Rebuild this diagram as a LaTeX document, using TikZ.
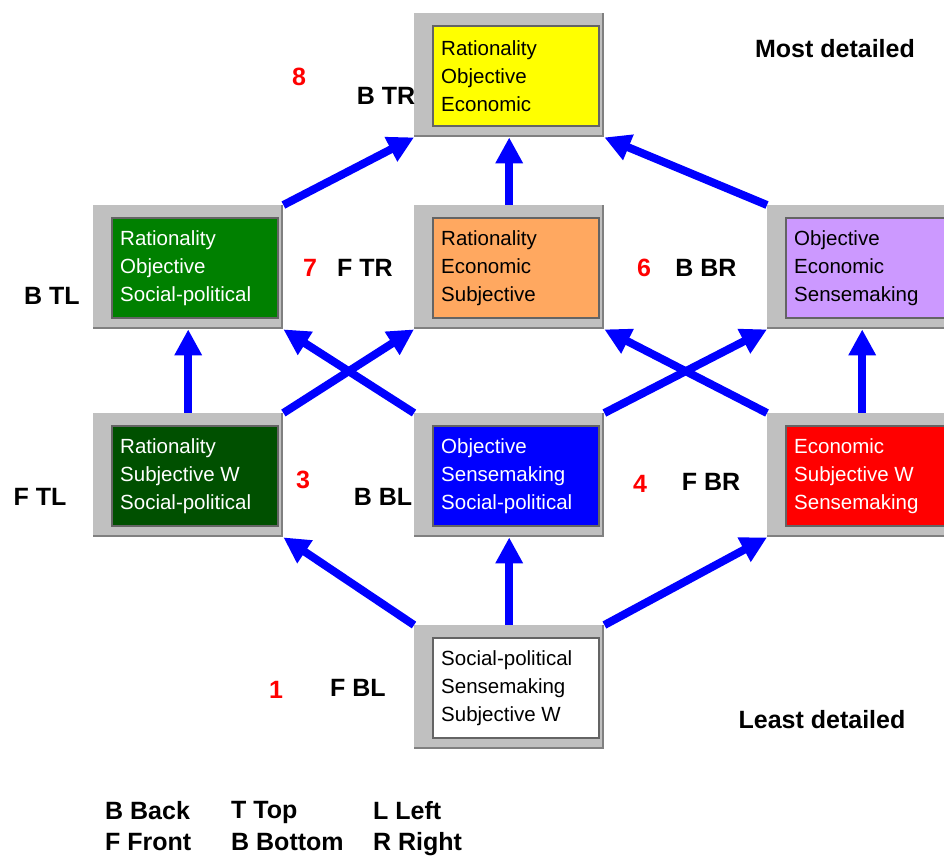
\documentclass[tikz,border=0pt]{standalone}
\usepackage{fontspec}
\setmainfont{Liberation Sans}
\usetikzlibrary{arrows.meta}
\pgfdeclarelayer{bg}
\pgfsetlayers{bg,main}

\definecolor{framegray}{RGB}{192,192,192}
\definecolor{frameshade}{RGB}{128,128,128}
\definecolor{insetgray}{RGB}{100,100,100}
\definecolor{cyellow}{RGB}{255,255,0}
\definecolor{cgreen}{RGB}{0,128,0}
\definecolor{corange}{RGB}{255,168,96}
\definecolor{clilac}{RGB}{204,153,255}
\definecolor{cdkgreen}{RGB}{0,80,0}
\definecolor{cblue}{RGB}{0,0,255}
\definecolor{cred}{RGB}{255,0,0}

\tikzset{
  framebox/.style={rectangle, inner sep=0pt, minimum width=190pt, minimum height=124pt,
    fill=framegray, anchor=north west},
  panel/.style={rectangle, inner sep=0pt, minimum width=166pt, minimum height=100pt,
    draw=insetgray, line width=1.5pt, anchor=north west},
  boxtext/.style={anchor=west, inner sep=0pt, align=left,
    font=\fontsize{20.5}{28}\selectfont},
  link/.style={draw=cblue, line width=8pt, -{Triangle[length=26pt,width=26pt]}},
  tag/.style={inner sep=0pt, font=\fontsize{25}{31}\selectfont\bfseries},
  num/.style={inner sep=0pt, font=\fontsize{25}{31}\selectfont\bfseries, text=cred},
}

% level box: name, x, y (top-left of frame), panel fill, text colour, lines
\newcommand\levelbox[6]{%
  \node[framebox] (#1) at (#2,#3) {};
  \draw[frameshade, line width=2pt]
    ([yshift=1pt]#1.south west) -- ([shift={(-1pt,1pt)}]#1.south east)
    -- ([xshift=-1pt]#1.north east);
  \node[panel, fill=#4] (#1-in) at ([shift={(18pt,-12pt)}]#1.north west) {};
  \node[boxtext, text=#5] (#1-txt) at ([xshift=9pt]#1-in.west) {#6};
}

\begin{document}
\begin{tikzpicture}[x=1pt, y=-1pt]
\useasboundingbox (0,0) rectangle (944,857);
\clip (0,0) rectangle (944,857);

% lattice of levels
\levelbox{top}{414}{13}{cyellow}{black}{Rationality\\Objective\\Economic}
\levelbox{btl}{93}{205}{cgreen}{white}{Rationality\\Objective\\Social-political}
\levelbox{ftr}{414}{205}{corange}{black}{Rationality\\Economic\\Subjective}
\levelbox{bbr}{767}{205}{clilac}{black}{Objective\\Economic\\Sensemaking}
\levelbox{ftl}{93}{413}{cdkgreen}{white}{Rationality\\Subjective W\\Social-political}
\levelbox{bbl}{414}{413}{cblue}{white}{Objective\\Sensemaking\\Social-political}
\levelbox{fbr}{767}{413}{cred}{white}{Economic\\Subjective W\\Sensemaking}
\levelbox{fbl}{414}{625}{white}{black}{Social-political\\Sensemaking\\Subjective W}

% refinement arrows
\begin{pgfonlayer}{bg}
  \draw[link] (btl.north east) -- (top.south west);
  \draw[link] (ftr.north) -- (top.south);
  \draw[link] (bbr.north west) -- (top.south east);
  \draw[link] (ftl.north) -- (btl.south);
  \draw[link] (ftl.north east) -- (ftr.south west);
  \draw[link] (bbl.north west) -- (btl.south east);
  \draw[link] (bbl.north east) -- (bbr.south west);
  \draw[link] (fbr.north west) -- (ftr.south east);
  \draw[link] (fbr.north) -- (bbr.south);
  \draw[link] (fbl.north west) -- (ftl.south east);
  \draw[link] (fbl.north) -- (bbl.south);
  \draw[link] (fbl.north east) -- (fbr.south west);
\end{pgfonlayer}

% corner labels and level numbers
\node[num] (n8) at (299,77) {8};
\node[tag] (lbtr) at (386,96) {B TR};
\node[tag] (most) at (835,49) {Most detailed};
\node[tag] (lbtl) at (52,296) {B TL};
\node[num] (n7) at (310,268) {7};
\node[tag] (lftr) at (365,268) {F TR};
\node[num] (n6) at (644,268) {6};
\node[tag] (lbbr) at (706,268) {B BR};
\node[tag] (lftl) at (40,497) {F TL};
\node[num] (n3) at (303,480) {3};
\node[tag] (lbbl) at (383,497) {B BL};
\node[num] (n4) at (640,484) {4};
\node[tag] (lfbr) at (711,482) {F BR};
\node[num] (n1) at (276,690) {1};
\node[tag] (lfbl) at (358,688) {F BL};
\node[tag] (least) at (822,720) {Least detailed};

% legend
\node[tag, anchor=base west] (kb) at (105,819) {B Back};
\node[tag, anchor=base west] (kf) at (105,850) {F Front};
\node[tag, anchor=base west] (kt) at (231,818) {T Top};
\node[tag, anchor=base west] (kbo) at (231,850) {B Bottom};
\node[tag, anchor=base west] (kl) at (373,819) {L Left};
\node[tag, anchor=base west] (kr) at (373,850) {R Right};
\end{tikzpicture}
\end{document}
